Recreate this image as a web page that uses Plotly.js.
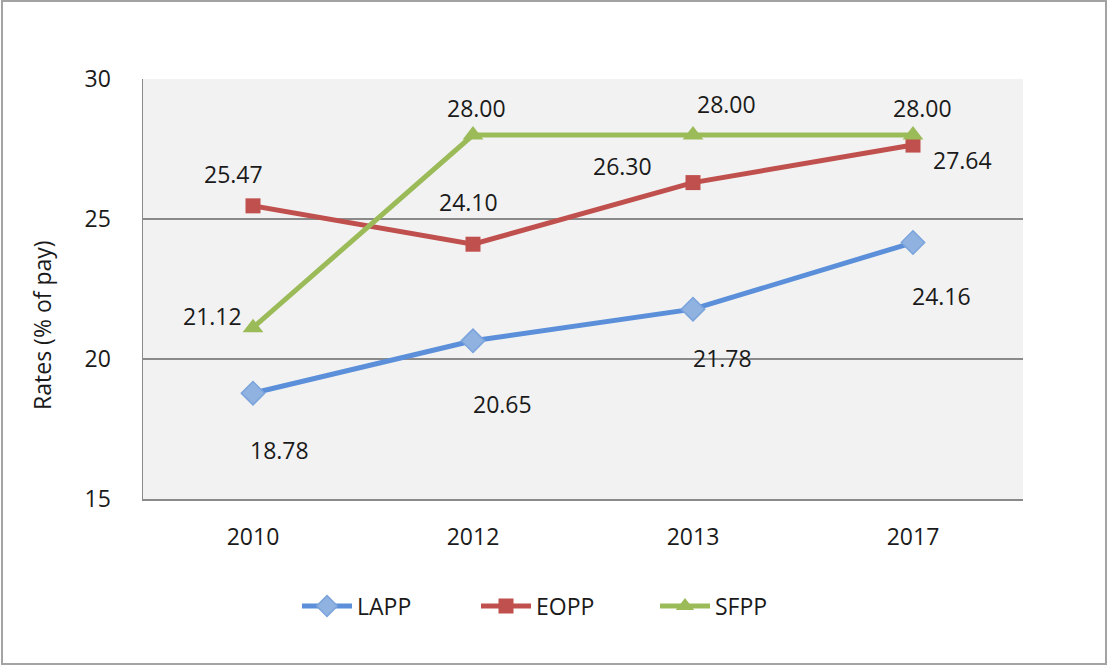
<!DOCTYPE html>
<html>
<head>
<meta charset="utf-8">
<script src="https://cdn.plot.ly/plotly-3.0.1.min.js"></script>
<style>
  html, body { margin: 0; padding: 0; background: #ffffff; }
  #chart { position: absolute; left: 0; top: 0; width: 1108px; height: 667px; }
  #frame { position: absolute; left: 1px; top: 0px; width: 1102px; height: 661px;
           border: 2px solid #a3a3a3; pointer-events: none; }
</style>
</head>
<body>
<div id="chart"></div>
<div id="frame"></div>
<script>
// ---- data ----
const years = ["2010", "2012", "2013", "2017"];
const lapp = [18.78, 20.65, 21.78, 24.16];
const eopp = [25.47, 24.10, 26.30, 27.64];
const sfpp = [21.12, 28.00, 28.00, 28.00];
const yTicks = [15, 20, 25, 30];

// ---- label offsets (pixels, style only) ----
const lappShift = [[26, -57], [29, -63], [29, -49], [28, -53]];
const eoppShift = [[-20, 32], [-5, 42], [-71, 17], [49, -15]];
const sfppShift = [[-41, 12], [3, 27], [33, 31], [9, 27]];

const FONT = "Open Sans, Liberation Sans, sans-serif";

const traces = [
  { name: "LAPP", x: years, y: lapp, type: "scatter", mode: "lines+markers",
    line: { color: "#5b8fd9", width: 5 },
    marker: { symbol: "diamond", size: 18, color: "#8fb2e0", line: { color: "#7aa3dc", width: 1.5 } } },
  { name: "EOPP", x: years, y: eopp, type: "scatter", mode: "lines+markers",
    line: { color: "#c0504d", width: 5 },
    marker: { symbol: "square", size: 15, color: "#c0504d", line: { width: 0 } } },
  { name: "SFPP", x: years, y: sfpp, type: "scatter", mode: "lines+markers",
    line: { color: "#9bbb59", width: 5 },
    marker: { symbol: "triangle-up", size: 18, color: "#9bbb59", line: { width: 0 } } }
];

const annotations = [];
function addLabels(vals, shifts) {
  vals.forEach((v, i) => {
    annotations.push({
      x: i, y: v, xref: "x", yref: "y", text: v.toFixed(2), showarrow: false,
      xshift: shifts[i][0], yshift: shifts[i][1],
      font: { family: FONT, size: 23, color: "#1a1a1a" }
    });
  });
}
addLabels(lapp, lappShift);
addLabels(eopp, eoppShift);
addLabels(sfpp, sfppShift);

annotations.push({
  text: "Rates (% of pay)", xref: "paper", yref: "paper", x: -0.115, y: 0.414,
  textangle: -90, showarrow: false, xanchor: "center", yanchor: "middle",
  font: { family: FONT, size: 23, color: "#1a1a1a" }
});

const layout = {
  width: 1108, height: 667,
  margin: { l: 143, r: 85, t: 79, b: 168 },
  paper_bgcolor: "rgba(0,0,0,0)",
  plot_bgcolor: "#f2f2f2",
  font: { family: FONT, size: 23, color: "#1a1a1a" },
  showlegend: true,
  legend: { orientation: "h", x: 0.175, xanchor: "left", y: -0.255, yanchor: "middle",
            font: { family: FONT, size: 23, color: "#1a1a1a" }, itemwidth: 50,
            entrywidth: 114, entrywidthmode: "pixels",
            bgcolor: "rgba(0,0,0,0)" },
  xaxis: { type: "category", range: [-0.5, 3.5], showgrid: false, zeroline: false,
           showline: true, linecolor: "#8a8a8a", linewidth: 1.5, ticks: "",
           ticklabelstandoff: 17, fixedrange: true },
  yaxis: { range: [15, 30], tickvals: yTicks, ticktext: yTicks.map(String),
           showgrid: true, gridcolor: "#8a8a8a", gridwidth: 1.5, zeroline: false,
           showline: true, linecolor: "#8a8a8a", linewidth: 1.5, ticks: "",
           ticklabelstandoff: 26, fixedrange: true },
  annotations: annotations
};

Plotly.newPlot("chart", traces, layout, { displayModeBar: false, staticPlot: true });
</script>
</body>
</html>
